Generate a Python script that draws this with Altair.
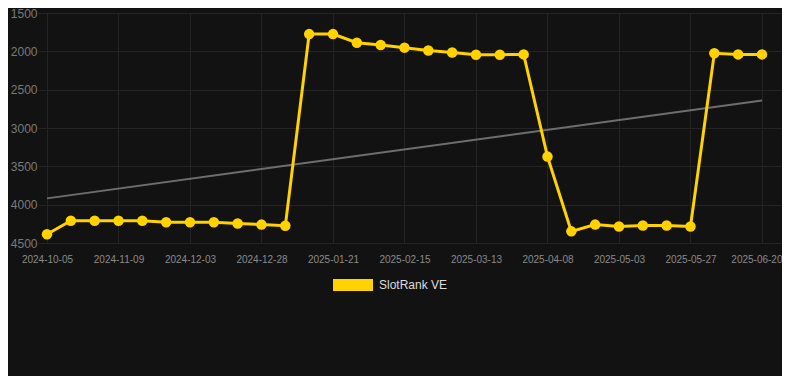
import altair as alt
import pandas as pd

dates = [
    "2024-10-05", "2024-10-17", "2024-10-29", "2024-11-09", "2024-11-17",
    "2024-11-25", "2024-12-03", "2024-12-11", "2024-12-19", "2024-12-28",
    "2025-01-05", "2025-01-13", "2025-01-21", "2025-01-29", "2025-02-06",
    "2025-02-15", "2025-02-23", "2025-03-04", "2025-03-13", "2025-03-21",
    "2025-03-30", "2025-04-08", "2025-04-16", "2025-04-25", "2025-05-03",
    "2025-05-11", "2025-05-19", "2025-05-27", "2025-06-04", "2025-06-12",
    "2025-06-20",
]
ranks = [
    4385, 4210, 4210, 4210, 4210, 4230, 4230, 4230, 4245, 4260, 4275,
    1775, 1775, 1888, 1918, 1952, 1990, 2015, 2044, 2044, 2040,
    3373, 4348, 4260, 4285, 4272, 4272, 4285,
    2025, 2040, 2040,
]
label_dates = dates[::3]
y_ticks = [1500, 2000, 2500, 3000, 3500, 4000, 4500]
trend_dates = [dates[0], dates[-1]]
trend_ranks = [3918, 2640]
series_name = "SlotRank VE"

df = pd.DataFrame({"date": dates, "rank": ranks, "series": [series_name] * len(dates)})
trend_df = pd.DataFrame({"date": trend_dates, "rank": trend_ranks})

FONT = "Liberation Sans"
YELLOW = "#FFD200"
GRID = "#242424"
last_label = dates[-1]

x_scale = alt.Scale(domain=dates, padding=0.6084, align=0.31)
y_scale = alt.Scale(domain=[1500, 4500], reverse=True, nice=False, zero=False)

x_enc = alt.X(
    "date:O", scale=x_scale, sort=None,
    axis=alt.Axis(
        values=label_dates, labelAngle=0, title=None, domain=False,
        ticks=False, labelPadding=11, labelColor="#8a8a8a",
        labelFontSize=10, grid=True, gridColor=GRID, labelFont=FONT,
        labelAlign=alt.ConditionalAxisLabelAlign(
            condition={"test": f"datum.value === '{last_label}'", "value": "right"},
            value="center",
        ),
        labelOffset=alt.ConditionalAxisNumber(
            condition={"test": f"datum.value === '{last_label}'", "value": 20},
            value=0,
        ),
    ),
)
y_enc = alt.Y(
    "rank:Q", scale=y_scale,
    axis=alt.Axis(values=y_ticks, format="d", title=None, domain=False, ticks=False,
                  labelPadding=1, labelFontSize=12, labelColor="#7a7a7a",
                  grid=True, gridColor=GRID, labelFont=FONT),
)

trend = alt.Chart(trend_df).mark_line(color="#6e6e6e", strokeWidth=2).encode(x=x_enc, y=y_enc)
line = alt.Chart(df).mark_line(color=YELLOW, strokeWidth=3).encode(x=x_enc, y=y_enc)
points = alt.Chart(df).mark_point(filled=True, size=110, opacity=1).encode(
    x=x_enc, y=y_enc,
    color=alt.Color(
        "series:N",
        scale=alt.Scale(domain=[series_name], range=[YELLOW]),
        legend=alt.Legend(
            title=None, orient="none", legendX=295, legendY=252,
            symbolType="M-1,-0.3H1V0.3H-1Z", symbolSize=1600,
            symbolStrokeWidth=0, symbolOpacity=1, labelOffset=6,
            labelFontSize=12, labelColor="#dddddd", labelFont=FONT,
        ),
    ),
)

chart = (
    alt.layer(trend, line, points)
    .properties(
        width=744, height=230,
        autosize=alt.AutoSizeParams(type="none"),
        padding={"left": 30, "top": 5, "right": 0, "bottom": 133},
        background="#121212",
    )
    .configure(font=FONT)
    .configure_view(stroke=None)
)

chart.save("out.html", embed_options={"renderer": "svg", "actions": False})
